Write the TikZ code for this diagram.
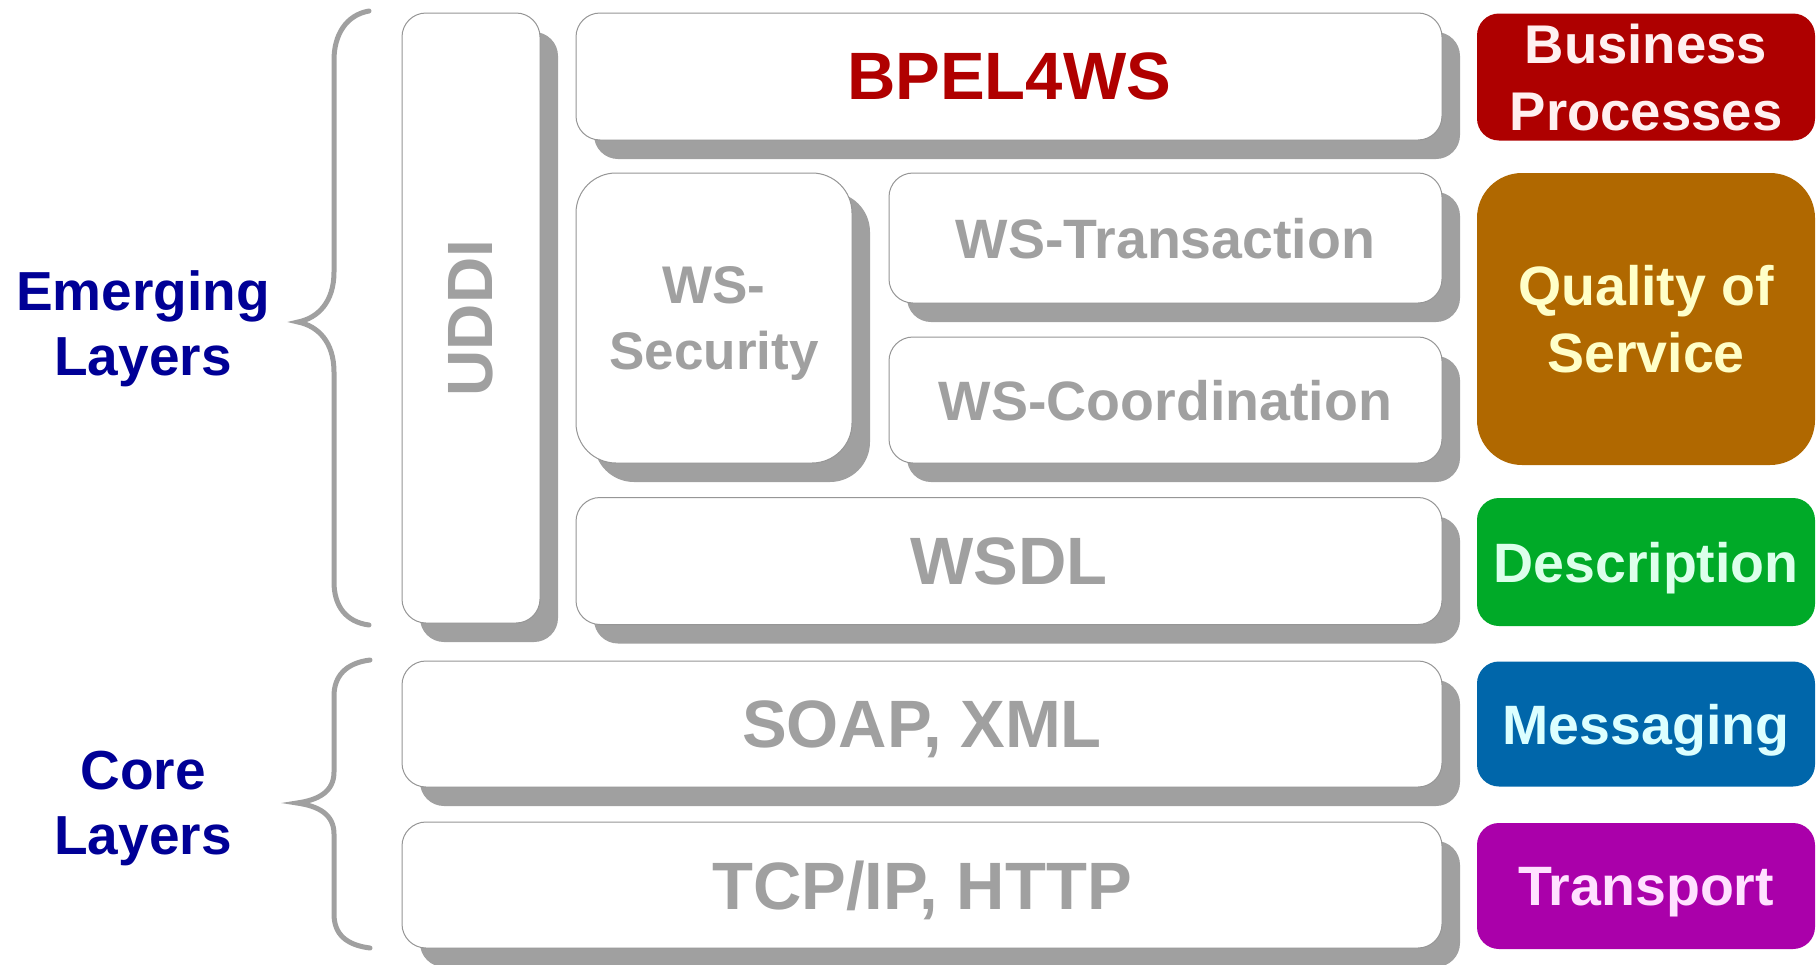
\documentclass[tikz,border=0pt]{standalone}
\usepackage{fontspec}
\setmainfont{Liberation Sans}
\usetikzlibrary{shadows}

\definecolor{layergray}{RGB}{160,160,160}
\definecolor{bordergray}{RGB}{150,150,150}
\definecolor{bpelred}{RGB}{176,0,0}
\definecolor{navy}{RGB}{0,0,150}
\definecolor{bizred}{RGB}{174,0,0}
\definecolor{qosbrown}{RGB}{176,104,0}
\definecolor{descgreen}{RGB}{0,170,40}
\definecolor{msgblue}{RGB}{0,102,170}
\definecolor{transpurple}{RGB}{170,0,170}
\definecolor{bizfg}{RGB}{255,240,240}
\definecolor{qosfg}{RGB}{255,255,200}
\definecolor{descfg}{RGB}{220,255,235}
\definecolor{msgfg}{RGB}{220,255,255}
\definecolor{transfg}{RGB}{255,225,255}

\begin{document}
\begin{tikzpicture}[x=1pt,y=-1pt,
    layer/.style={draw=bordergray,line width=1pt,fill=white,rounded corners=24pt,
      inner sep=0pt,align=center,text=layergray,text depth=0pt,
      font=\bfseries\fontsize{67}{72}\selectfont,
      drop shadow={shadow xshift=18pt,shadow yshift=-19pt,fill=layergray,opacity=1}},
    small layer/.style={layer,font=\bfseries\fontsize{55.5}{66}\selectfont},
    tag/.style={rounded corners=22pt,inner sep=0pt,minimum width=338pt,align=center,
      text depth=0pt,font=\bfseries\fontsize{55.5}{67}\selectfont},
    group/.style={text=navy,align=center,font=\bfseries\fontsize{55}{65}\selectfont},
    brace/.style={draw=layergray,line width=5pt,line cap=round}]
  \fill[white] (0,0) rectangle (1818,964);
  \useasboundingbox (0,0) rectangle (1818,964);

  \node[group] (emerging) at (143,329) {Emerging\\Layers};
  \node[group] (core) at (143,808) {Core\\Layers};

  \draw[brace] (369,11) .. controls (346,15) and (334,35) .. (334,60) -- (334,272)
    .. controls (334,302) and (318,318) .. (298,322)
    .. controls (318,326) and (334,342) .. (334,372) -- (334,582)
    .. controls (334,606) and (346,622) .. (369,625);
  \draw[brace] (370,660) .. controls (346,663) and (334,676) .. (334,696) -- (334,772)
    .. controls (334,792) and (318,800) .. (297,803)
    .. controls (318,806) and (334,814) .. (334,834) -- (334,914)
    .. controls (334,934) and (346,945) .. (370,948);

  \node[layer,minimum width=138pt,minimum height=610pt,
        font=\bfseries\fontsize{64}{72}\selectfont] (uddi) at (471,318) {\rotatebox{90}{UDDI}};
  \node[layer,minimum width=866pt,minimum height=127pt,text=bpelred] (bpel) at (1009,76.5) {BPEL4WS};
  \node[small layer,minimum width=276pt,minimum height=290pt,rounded corners=40pt,
        font=\bfseries\fontsize{53}{66}\selectfont] (wssec) at (714,318) {WS-\\Security};
  \node[small layer,minimum width=553pt,minimum height=130pt] (wstrans) at (1165.5,238) {WS-Transaction};
  \node[small layer,minimum width=553pt,minimum height=126pt] (wscoord) at (1165.5,400) {WS-Coordination};
  \node[layer,minimum width=866pt,minimum height=127pt] (wsdl) at (1009,561) {WSDL};
  \node[layer,minimum width=1040pt,minimum height=126pt] (soap) at (922,724) {SOAP, XML};
  \node[layer,minimum width=1040pt,minimum height=126pt] (tcp) at (922,885) {TCP/IP, HTTP};

  \node[tag,fill=bizred,text=bizfg,minimum height=127pt,
        font=\bfseries\fontsize{54.5}{67}\selectfont] (business) at (1646,77) {Business\\Processes};
  \node[tag,fill=qosbrown,text=qosfg,minimum height=292pt,rounded corners=45pt] (qos) at (1646,319) {Quality of\\Service};
  \node[tag,fill=descgreen,text=descfg,minimum height=128pt] (descr) at (1646,562) {Description};
  \node[tag,fill=msgblue,text=msgfg,minimum height=125pt] (msg) at (1646,724) {Messaging};
  \node[tag,fill=transpurple,text=transfg,minimum height=126pt] (transp) at (1646,886) {Transport};
\end{tikzpicture}
\end{document}
